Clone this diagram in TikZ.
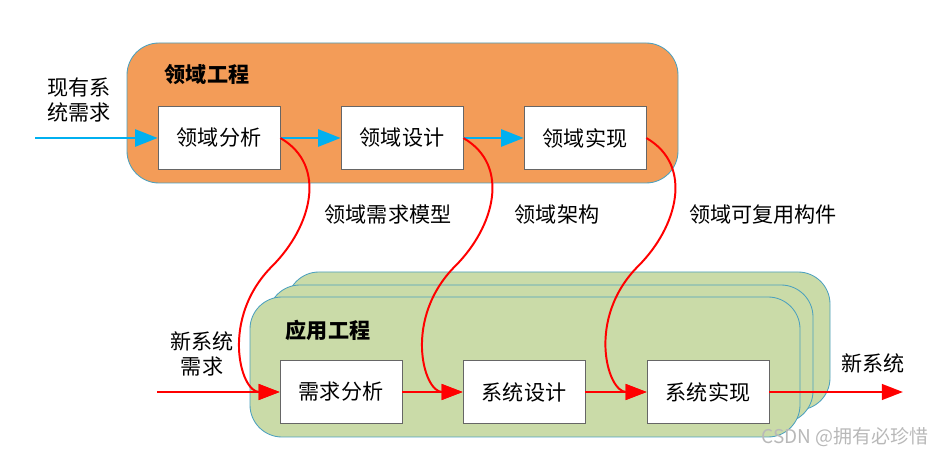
\documentclass[tikz,border=0pt]{standalone}
\usepackage{fontspec}
\newfontfamily\cjk{Noto Sans CJK SC}
\usetikzlibrary{arrows.meta, positioning, calc}
\definecolor{domorange}{RGB}{243,156,88}
\definecolor{appgreen}{RGB}{202,219,168}
\definecolor{edgeblue}{RGB}{75,160,190}
\definecolor{flowblue}{RGB}{0,176,240}
\tikzset{
  stage/.style={draw=black!60, fill=white, minimum width=3.05cm, minimum height=1.575cm, font=\cjk\fontsize{15}{18}\selectfont},
  lbl/.style={font=\cjk\fontsize{15}{18}\selectfont, align=center},
  title/.style={font=\cjk\bfseries\fontsize{15}{18}\selectfont},
  panel/.style={draw=edgeblue, line width=0.6pt, rounded corners=0.8cm},
  bluearr/.style={-{Triangle[length=16pt,width=12pt]}, flowblue, line width=2pt},
  redarr/.style={-{Triangle[length=15pt,width=11pt]}, red, line width=2pt},
  reuse/.style={redarr, line width=1.4pt},
}

\begin{document}
\begin{tikzpicture}[x=0.025cm, y=-0.025cm]
    \useasboundingbox (0,0) rectangle (946,457);

    % Domain engineering
    \draw[panel, fill=domorange] (127,43) rectangle (678,183);
    \node[title] (dtitle) at (207,75) {领域工程};
    \node[stage] (da) at (219,138) {领域分析};
    \node[stage] (dd) at (402,138) {领域设计};
    \node[stage] (di) at (585,138) {领域实现};

    % Application engineering (stacked)
    \draw[panel, fill=appgreen] (287,272) rectangle (830,410);
    \draw[panel, fill=appgreen] (268,285) rectangle (813,423);
    \draw[panel, fill=appgreen] (250,297) rectangle (800,437);
    \node[title] (atitle) at (328,330) {应用工程};
    \node[stage] (ra) at (341,392) {需求分析};
    \node[stage] (sd) at (524,392) {系统设计};
    \node[stage] (si) at (708,392) {系统实现};

    % Inputs and outputs
    \node[lbl] (oldreq) at (79,100) {现有系\\统需求};
    \node[lbl] (newreq) at (202,354) {新系统\\需求};
    \node[lbl] (newsys) at (873,363) {新系统};
    \coordinate (oldin) at (35,138);
    \coordinate (newin) at (157,392);
    \coordinate (out) at (903,392);

    % Artefacts
    \node[lbl] (model) at (388,215) {领域需求模型};
    \node[lbl] (arch) at (557,215) {领域架构};
    \node[lbl] (comp) at (763,215) {领域可复用构件};

    % Flow
    \draw[bluearr] (oldin) -- (da);
    \draw[bluearr] (da) -- (dd);
    \draw[bluearr] (dd) -- (di);
    \draw[redarr] (newin) -- (ra);
    \draw[redarr] (ra) -- (sd);
    \draw[redarr] (sd) -- (si);
    \draw[redarr] (si) -- (out);

    % Reuse
    \coordinate (bend1) at ($(da.east)+(-8,128)$);
    \coordinate (bend2) at ($(dd.east)+(-8,128)$);
    \coordinate (bend3) at ($(di.east)+(-8,128)$);
    \draw[reuse] (da.east) to[out=-30, in=45, looseness=1.1] (bend1) to[out=-135, in=180, out looseness=1.5, in looseness=0.8] (ra.west);
    \draw[reuse] (dd.east) to[out=-30, in=45, looseness=1.1] (bend2) to[out=-135, in=180, out looseness=1.5, in looseness=0.8] (sd.west);
    \draw[reuse] (di.east) to[out=-30, in=45, looseness=1.1] (bend3) to[out=-135, in=180, out looseness=1.5, in looseness=0.8] (si.west);

    \node[font=\cjk\fontsize{13.5}{16}\selectfont, text=black!28] (mark) at (845,437) {CSDN @拥有必珍惜};
\end{tikzpicture}
\end{document}
